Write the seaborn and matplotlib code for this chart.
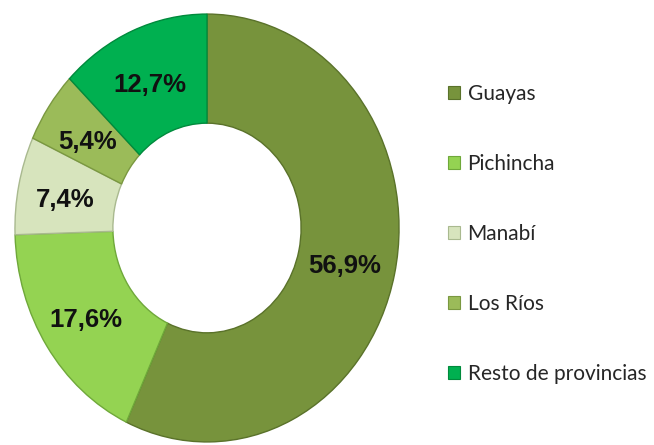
import matplotlib
matplotlib.use("Agg")
import matplotlib.pyplot as plt
import matplotlib.transforms as mtransforms
import seaborn as sns
from matplotlib.patches import Patch
from matplotlib import font_manager

categories = ["Guayas", "Pichincha", "Manabí", "Los Ríos", "Resto de provincias"]
values = [56.9, 17.6, 7.4, 5.4, 12.7]
colors = ["#77933C", "#94D352", "#D7E4BD", "#9BBB59", "#00B050"]
edge_colors = ["#5a722a", "#6fa83a", "#a9b98f", "#7a9840", "#008a3c"]

sns.set_theme(style="white")
palette = sns.color_palette(colors)

avail = {f.name for f in font_manager.fontManager.ttflist}
narrow = "Liberation Sans Narrow" in avail
label_family = ["Liberation Sans Narrow", "Liberation Sans", "DejaVu Sans"] if narrow else ["Liberation Sans", "DejaVu Sans"]
plt.rcParams["font.family"] = ["Lato", "DejaVu Sans"]

fig = plt.figure(figsize=(6.54, 4.45), dpi=100)
ax = fig.add_axes([14 / 654, 2 / 445, 386 / 654, 430 / 445])

wedges, texts, autotexts = ax.pie(
    values,
    colors=palette,
    startangle=90,
    counterclock=False,
    radius=1.0,
    autopct=lambda p: f"{p:.1f}%".replace(".", ","),
    pctdistance=0.745,
    wedgeprops=dict(width=0.51, linewidth=1.0),
)
for w, ec in zip(wedges, edge_colors):
    w.set_edgecolor(ec)
shift = mtransforms.offset_copy(ax.transData, fig=fig, x=-2, y=-4, units="dots")
for t in autotexts:
    t.set_fontsize(21 if narrow else 18.5)
    t.set_fontweight("bold")
    t.set_family(label_family)
    t.set_color("#111111")
    t.set_transform(shift)

ax.set_aspect("auto")
ax.set_xlim(-1.005, 1.005)
ax.set_ylim(-1.005, 1.005)
ax.axis("off")

handles = [Patch(facecolor=c, edgecolor=ec, linewidth=0.8) for c, ec in zip(palette, edge_colors)]
fig.legend(
    handles,
    categories,
    loc="center left",
    bbox_to_anchor=(429 / 654, 0.475),
    frameon=False,
    fontsize=15,
    handlelength=0.6,
    handleheight=0.6,
    handletextpad=0.35,
    labelspacing=2.40,
)

fig.savefig("out.png", dpi=100, facecolor="white")
